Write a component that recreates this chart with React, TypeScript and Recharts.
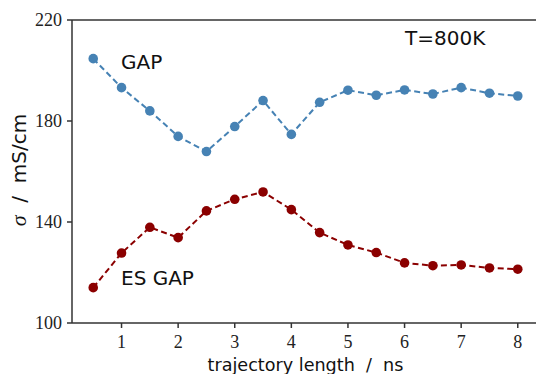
import { LineChart, Line, XAxis, YAxis, ReferenceLine } from "recharts";

const lengths = [0.5, 1, 1.5, 2, 2.5, 3, 3.5, 4, 4.5, 5, 5.5, 6, 6.5, 7, 7.5, 8];
const gap = [204.7, 193.2, 184.0, 173.9, 167.9, 177.8, 188.1, 174.7, 187.4, 192.2, 190.2, 192.3, 190.7, 193.2, 191.0, 189.9];
const esGap = [114.0, 127.7, 137.9, 133.8, 144.4, 149.0, 151.9, 144.9, 135.8, 130.9, 127.9, 123.8, 122.7, 123.0, 121.8, 121.3];
const xTicks = [1, 2, 3, 4, 5, 6, 7, 8];
const yTicks = [100, 140, 180, 220];

const data = lengths.map((t, i) => ({ t, gap: gap[i], es: esGap[i] }));

const AXIS = "#333";
const serif = "'Liberation Serif', 'DejaVu Serif', serif";
const sans = "'DejaVu Sans', sans-serif";

export default function App() {
  return (
    <div style={{ position: "absolute", left: 0, top: 0, width: 536, height: 374, overflow: "hidden", background: "#fff" }}>
      <LineChart width={560} height={374} data={data} margin={{ top: 20, right: 21, bottom: 0, left: 0 }}>
        <XAxis
          dataKey="t"
          type="number"
          domain={[0.125, 8.375]}
          ticks={xTicks}
          allowDataOverflow
          height={51}
          stroke={AXIS}
          strokeWidth={1.5}
          tickSize={5}
          tickMargin={7}
          tick={{ fill: "#222", fontFamily: serif, fontSize: 18 }}
        />
        <YAxis
          type="number"
          domain={[100, 220]}
          ticks={yTicks}
          width={72}
          stroke={AXIS}
          strokeWidth={1.5}
          tickSize={5}
          tickMargin={5}
          tick={{ fill: "#222", fontFamily: serif, fontSize: 18 }}
        />
        <ReferenceLine y={220} stroke={AXIS} strokeWidth={1.5} />
        <Line
          dataKey="gap"
          stroke="#4682B4"
          strokeWidth={2}
          strokeDasharray="6 3.5"
          dot={{ r: 4.8, fill: "#4682B4", stroke: "#4682B4", strokeWidth: 0, strokeDasharray: "" }}
          isAnimationActive={false}
        />
        <Line
          dataKey="es"
          stroke="#8B0000"
          strokeWidth={2}
          strokeDasharray="6 3.5"
          dot={{ r: 4.8, fill: "#8B0000", stroke: "#8B0000", strokeWidth: 0, strokeDasharray: "" }}
          isAnimationActive={false}
        />
        <text x={121} y={69} fontFamily={sans} fontSize={20} fill="#111">GAP</text>
        <text x={121} y={285} fontFamily={sans} fontSize={20} fill="#111">ES GAP</text>
        <text x={405} y={45} fontFamily={sans} fontSize={20} fill="#111">T=800K</text>
        <text x={305.5} y={371} textAnchor="middle" fontFamily={sans} fontSize={17.6} fill="#111" xmlSpace="preserve">
          trajectory length  /  ns
        </text>
        <text x={26} y={170} textAnchor="middle" transform="rotate(-90 26 170)" fontFamily={sans} fontSize={20} fill="#111" xmlSpace="preserve">
          <tspan fontFamily={serif} fontStyle="italic" fontSize={22}>σ</tspan>  /  mS/cm
        </text>
      </LineChart>
    </div>
  );
}
